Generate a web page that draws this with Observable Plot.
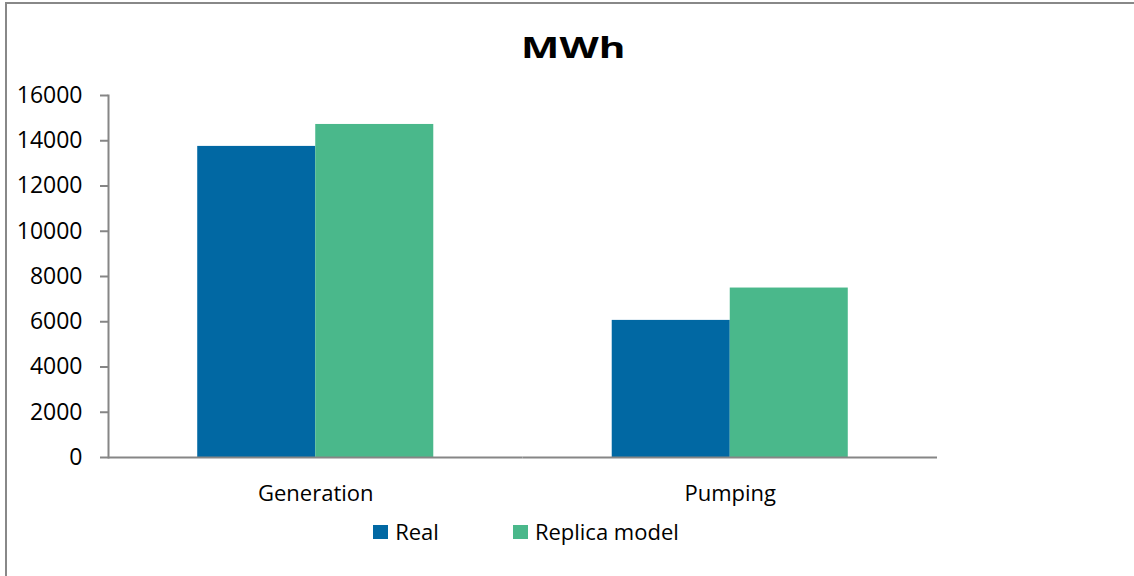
<!DOCTYPE html>
<html>
<head>
<meta charset="utf-8">
<script src="https://cdn.jsdelivr.net/npm/d3@7"></script>
<script src="https://cdn.jsdelivr.net/npm/@observablehq/plot@0.6"></script>
<style>
  html, body { margin: 0; padding: 0; background: #fff; overflow: hidden; }
  body { width: 1134px; height: 576px; position: relative; font-family: "Open Sans", sans-serif; color: #000; }
  #frame { position: absolute; left: 5px; top: 2px; width: 1136px; height: 700px;
           border-left: 2px solid #888; border-top: 2px solid #888; box-sizing: border-box; }
  #title { position: absolute; left: 5px; top: 30px; width: 1136px; text-align: center;
           font-weight: 700; font-size: 29px; line-height: 34px; z-index: 5; }
  #title span { display: inline-block; transform: scaleX(1.4); transform-origin: center; }
  #chart { position: absolute; left: 0; top: 0; z-index: 1; }
  #legend { position: absolute; left: 0; top: 515px; width: 1052px; text-align: center;
            font-size: 22px; line-height: 30px; white-space: nowrap; z-index: 5; }
  .item { display: inline-flex; align-items: center; margin: 0 37px; }
  .sw { display: inline-block; width: 15px; height: 14px; margin-right: 7px; margin-top: 2px; }
</style>
</head>
<body>
<div id="frame"></div>
<div id="chart"></div>
<div id="title"><span>MWh</span></div>
<div id="legend"></div>
<script>
const categories = ["Generation", "Pumping"];
const series = ["Real", "Replica model"];
const realValues = [13750, 6060];
const replicaValues = [14720, 7490];
const yTicks = [0, 2000, 4000, 6000, 8000, 10000, 12000, 14000, 16000];
const colors = ["#0168a3", "#4ab88b"];

const rows = [];
categories.forEach((c, i) => {
  rows.push({category: c, series: series[0], value: realValues[i]});
  rows.push({category: c, series: series[1], value: replicaValues[i]});
});

const chart = Plot.plot({
  width: 1134,
  height: 510,
  marginTop: 95,
  marginBottom: 53,
  marginLeft: 108,
  marginRight: 197,
  style: {fontFamily: "Open Sans", fontSize: "22px", color: "#000", background: "transparent"},
  fx: {domain: categories, padding: 0, round: false},
  x: {domain: series, paddingInner: 0, paddingOuter: 0.756, round: false, axis: null},
  y: {domain: [0, 16000]},
  color: {domain: series, range: colors},
  marks: [
    Plot.barY(rows, {fx: "category", x: "series", y: "value", fill: "series"}),
    Plot.axisY({ticks: yTicks, tickFormat: d => String(d), tickSize: 8, tickPadding: 18,
                stroke: "#868686", strokeWidth: 2, fill: "#000", label: null, fontSize: 23}),
    Plot.axisFx({anchor: "bottom", tickSize: 0, tickPadding: 28, label: null, fill: "#000", fontSize: 22}),
    Plot.ruleY([0], {stroke: "#868686", strokeWidth: 2}),
    Plot.frame({anchor: "left", facet: "super", stroke: "#868686", strokeWidth: 2})
  ]
});
document.getElementById("chart").appendChild(chart);

const legend = document.getElementById("legend");
series.forEach((s, i) => {
  const item = document.createElement("span");
  item.className = "item";
  const sw = document.createElement("span");
  sw.className = "sw";
  sw.style.background = colors[i];
  item.appendChild(sw);
  item.appendChild(document.createTextNode(s));
  legend.appendChild(item);
});
</script>
</body>
</html>
